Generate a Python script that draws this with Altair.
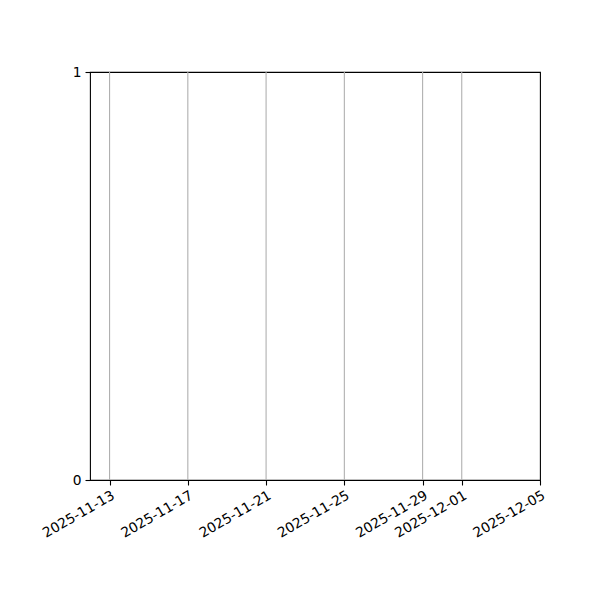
import altair as alt
import pandas as pd

line_dates = ["2025-11-13", "2025-11-17", "2025-11-21", "2025-11-25", "2025-11-29", "2025-12-01"]
tick_dates = [(2025, 11, 13), (2025, 11, 17), (2025, 11, 21), (2025, 11, 25),
              (2025, 11, 29), (2025, 12, 1), (2025, 12, 5)]
x_start = (2025, 11, 12)
x_end = (2025, 12, 5)
y_ticks = [0, 1]

df = pd.DataFrame({"date": line_dates})

def dt(t):
    return alt.DateTime(year=t[0], month=t[1], date=t[2], utc=True)

font = "DejaVu Sans"
chart = alt.Chart(df).mark_rule(color="#b0b0b0", strokeWidth=1.1).encode(
    x=alt.X("date:T",
            scale=alt.Scale(type="utc", domain=[dt(x_start), dt(x_end)], nice=False),
            axis=alt.Axis(values=[dt(t) for t in tick_dates], format="%Y-%m-%d",
                          title=None, grid=False, domain=False,
                          labelAngle=-30, labelAlign="right", labelBaseline="top",
                          labelFont=font, labelFontSize=13.8, labelColor="black",
                          tickColor="black", tickSize=5, tickWidth=1.1,
                          labelPadding=3, labelOverlap=False, labelFlush=False)),
    y=alt.datum(0, scale=alt.Scale(domain=[0, 1], nice=False),
                axis=alt.Axis(values=y_ticks, format="d", title=None, grid=False, domain=False,
                              labelFont=font, labelFontSize=13.8, labelColor="black",
                              tickColor="black", tickSize=5, tickWidth=1.1, labelPadding=4)),
    y2=alt.datum(1),
).properties(
    width=450, height=408,
    autosize=alt.AutoSizeParams(type="none"),
    padding={"left": 82, "top": 64, "right": 50, "bottom": 80},
).configure(background="white").configure_view(stroke="black", strokeWidth=1.1)

chart.save("out.html", embed_options={"renderer": "svg", "actions": False})
